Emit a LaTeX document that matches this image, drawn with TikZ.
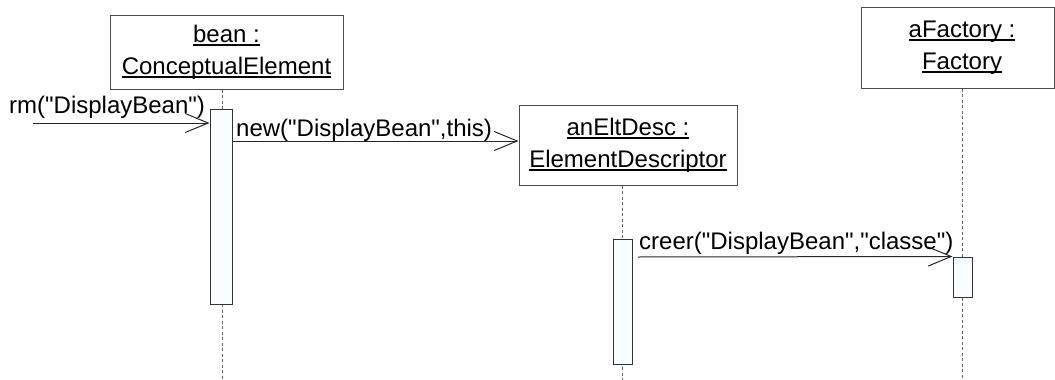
\documentclass[tikz,border=0pt]{standalone}
\usepackage{fontspec}
\setmainfont{Liberation Sans}
\newfontfamily\plainsans{Liberation Sans}
\usetikzlibrary{arrows.meta}
\newsavebox\ulsave
\newcommand\ulbox[1]{\sbox\ulsave{#1}\rlap{\rule[-3.6pt]{\wd\ulsave}{1.7pt}}\usebox\ulsave}
\tikzset{
  objbox/.style={draw=black!70, line width=1pt, fill=white, inner sep=0pt, align=center,
    font=\plainsans\fontsize{24}{32}\selectfont},
  actbox/.style={draw=black!80, line width=1pt, fill=white!98!cyan, inner sep=0pt},
  lifeline/.style={draw=black!60, line width=1pt, dash pattern=on 3pt off 2.5pt},
  msg/.style={draw=black!85, line width=1pt, -{Straight Barb[length=23pt,width=19pt,line width=1pt]}},
  lbl/.style={inner sep=0pt, anchor=west, font=\plainsans\fontsize{24}{28}\selectfont}
}
\begin{document}
\begin{tikzpicture}[x=1pt,y=-1pt]
\useasboundingbox (0,0) rectangle (1055,380);
% objects
\node[objbox, minimum width=233pt, minimum height=74pt] (bean) at (226.5,52) {\ulbox{bean :}\\\ulbox{ConceptualElement}};
\node[objbox, minimum width=218pt, minimum height=80pt] (desc) at (628,145) {\ulbox{anEltDesc :}\\\ulbox{ElementDescriptor}};
\node[objbox, minimum width=193pt, minimum height=81pt] (fac) at (957.5,47.5) {\hspace*{9pt}\ulbox{aFactory :}\\\hspace*{9pt}\ulbox{Factory}};
% lifelines
\coordinate (beanEnd) at (222,380);
\coordinate (descEnd) at (622,380);
\coordinate (facEnd) at (962,380);
\draw[lifeline] (bean.south -| beanEnd) -- (beanEnd);
\draw[lifeline] (desc.south -| descEnd) -- (descEnd);
\draw[lifeline] (fac.south -| facEnd) -- (facEnd);
% activations
\node[actbox, minimum width=22pt, minimum height=195pt] (actBean) at (221,206.5) {};
\node[actbox, minimum width=19pt, minimum height=125pt] (actDesc) at (622.5,301.5) {};
\node[actbox, minimum width=19pt, minimum height=40pt] (actFac) at (962.5,277) {};
% messages
\coordinate (rmStart) at (33,123);
\draw[msg] (rmStart) -- (rmStart -| actBean.west);
\node[lbl] (rmLbl) at (9,107) {rm("DisplayBean")};
\coordinate (newY) at (0,141);
\draw[msg] (actBean.east |- newY) -- (desc.west |- newY);
\node[lbl] (newLbl) at (236,130) {new("DisplayBean",this)};
\coordinate (creerStart) at (638,257);
\draw[msg] (creerStart) -- (actFac.north west);
\node[lbl] (creerLbl) at (639,243) {creer("DisplayBean","classe")};
\end{tikzpicture}
\end{document}
